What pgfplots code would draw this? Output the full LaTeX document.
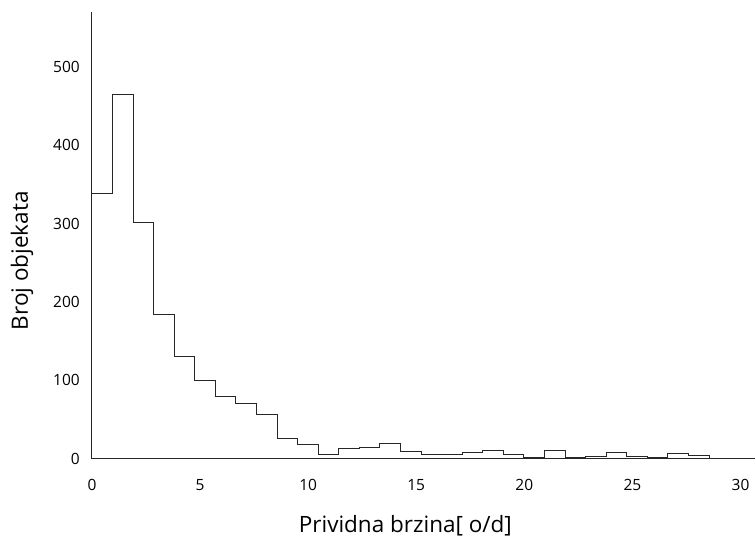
\documentclass[border=0pt]{standalone}
\usepackage{fontspec}
\setmainfont{Open Sans}
\usepackage{pgfplots}
\pgfplotsset{compat=1.18}
\begin{document}
\begin{tikzpicture}
\begin{axis}[
  scale only axis,
  width=663bp, height=447bp,
  at={(0,0)}, anchor=south west,
  xmin=0, xmax=30.65, ymin=0, ymax=570,
  axis x line*=bottom, axis y line*=left,
  axis line style={black!85, line width=0.9bp},
  xtick={0,5,10,15,20,25,30},
  ytick={0,100,200,300,400,500},
  major tick length=0pt,
  /pgf/number format/assume math mode=true,
  tick label style={font=\fontsize{15.5bp}{18bp}\selectfont, inner sep=0pt},
  x tick label style={anchor=north, yshift=-20.5bp},
  y tick label style={anchor=east, xshift=-12bp},
  every axis x label/.style={at={(axis description cs:0.473,-0.1655)}, anchor=base},
  every axis y label/.style={at={(axis description cs:-0.1056,0.443)}, rotate=90, anchor=center},
  label style={font=\fontsize{22.5bp}{26bp}\selectfont},
  xlabel={Prividna brzina[ o/d]},
  ylabel={Broj objekata},
  clip=false,
]
\addplot[const plot, black!85, line width=0.9bp] coordinates {
(0,339) (0.9515,465) (1.903,301) (2.8545,184) (3.806,130) (4.7575,100)
(5.709,79) (6.6605,70) (7.612,56) (8.5635,26) (9.515,18) (10.4665,5)
(11.418,13) (12.3695,15) (13.321,19) (14.2725,9) (15.224,5.5) (16.1755,5.5)
(17.127,8) (18.0785,10) (19.03,5) (19.9815,1) (20.933,10) (21.8845,2)
(22.836,3) (23.7875,8.5) (24.739,3.5) (25.6905,1) (26.642,6.5) (27.5935,4)
(28.545,4) (28.545,0)
};
\end{axis}
\path[use as bounding box] (-92bp,-80bp) rectangle (663bp,459bp);
\end{tikzpicture}
\end{document}
